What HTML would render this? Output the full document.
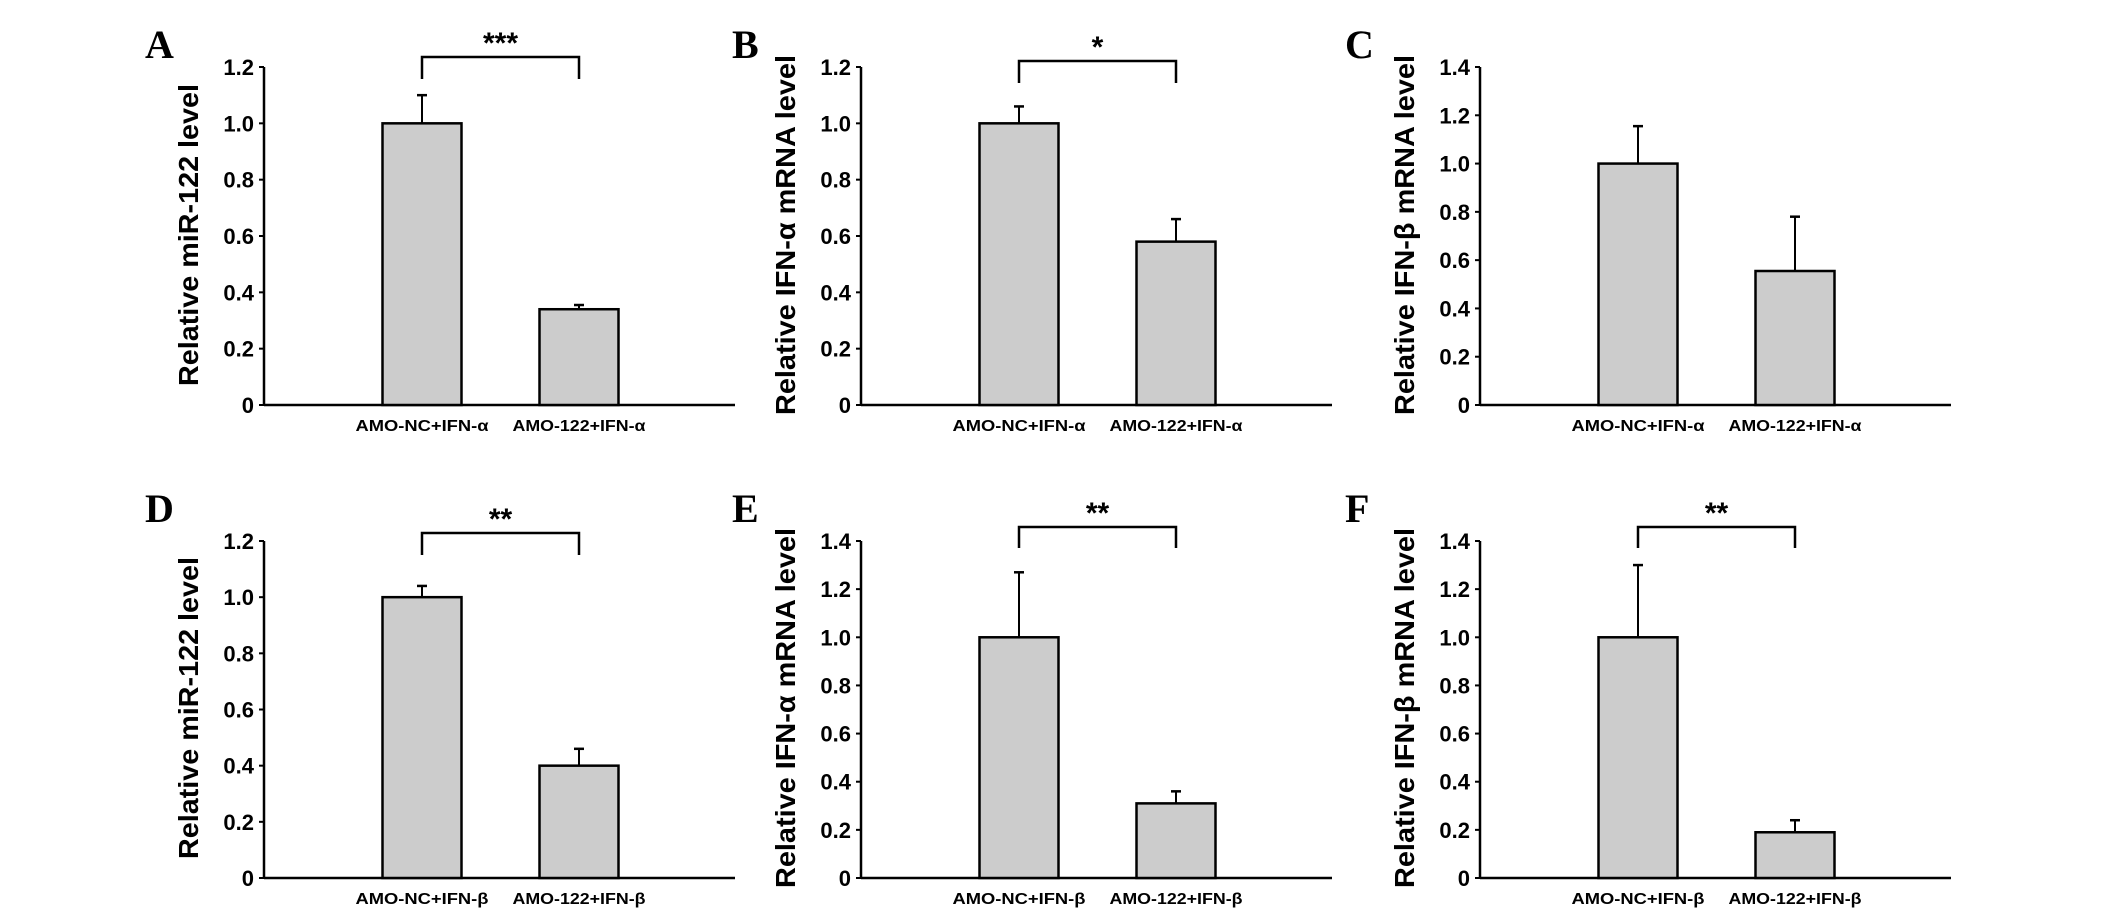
<!DOCTYPE html>
<html><head><meta charset="utf-8"><style>
html,body{margin:0;padding:0;background:#fff;}
svg{display:block;}
text{font-family:"Liberation Sans",sans-serif;font-weight:bold;fill:#000;}
.letter{font-family:"Liberation Serif",serif;font-size:40px;}
</style></head><body>
<svg id="fig" width="2126" height="921" viewBox="0 0 2126 921" xmlns="http://www.w3.org/2000/svg"></svg>
<script>
const panelLetters = ["A","B","C","D","E","F"];
const yTitles = ["Relative miR-122 level","Relative IFN-α mRNA level","Relative IFN-β mRNA level","Relative miR-122 level","Relative IFN-α mRNA level","Relative IFN-β mRNA level"];
const categoriesTop = ["AMO-NC+IFN-α","AMO-122+IFN-α"];
const categoriesBottom = ["AMO-NC+IFN-β","AMO-122+IFN-β"];
const meansA = [1.0, 0.34];  const errA = [0.1, 0.015];
const meansB = [1.0, 0.58];  const errB = [0.06, 0.08];
const meansC = [1.0, 0.555]; const errC = [0.155, 0.225];
const meansD = [1.0, 0.40];  const errD = [0.04, 0.06];
const meansE = [1.0, 0.31];  const errE = [0.27, 0.05];
const meansF = [1.0, 0.19];  const errF = [0.30, 0.05];
const yMaxes = [1.2, 1.2, 1.4, 1.2, 1.4, 1.4];
const yTicks12 = ["0","0.2","0.4","0.6","0.8","1.0","1.2"];
const yTicks14 = ["0","0.2","0.4","0.6","0.8","1.0","1.2","1.4"];
const significance = ["***","*","","**","**","**"];

const svg = document.getElementById('fig');
const NS = "http://www.w3.org/2000/svg";
function mk(tag, attrs, parent){const e=document.createElementNS(NS,tag);for(const k in attrs)e.setAttribute(k,attrs[k]);(parent||svg).appendChild(e);return e;}

const means=[meansA,meansB,meansC,meansD,meansE,meansF];
const errs=[errA,errB,errC,errD,errE,errF];
const axisX=[264,861,1480,264,861,1480];
const letterX=[145,732,1345,145,732,1345];
const rowBase=[405,878];
const rowTop=[67,541];
const bracketY=[[57,79],[61,83],null,[533,555],[527,548],[527,548]];

for(let p=0;p<6;p++){
  const row=p<3?0:1;
  const ax=axisX[p], base=rowBase[row], top=rowTop[row], ymax=yMaxes[p];
  const ticks = ymax>1.3? yTicks14 : yTicks12;
  const yS = v => base - (v/ymax)*(base-top);
  const xS = i => ax + 158 + i*157;
  const g=mk('g',{});
  
  
  const L=mk('text',{x:letterX[p],y:row?522:58,class:'letter'},g); L.textContent=panelLetters[p];
  
  
  const ya=mk('line',{x1:ax,y1:top,x2:ax,y2:base,stroke:'#000','stroke-width':2.5},g);
  
  
  const xa=mk('line',{x1:ax,y1:base,x2:ax+471,y2:base,stroke:'#000','stroke-width':2.5},g);
  
  
  ticks.forEach(t=>{
    const y=yS(parseFloat(t));
    mk('line',{x1:ax-5,y1:y,x2:ax,y2:y,stroke:'#000','stroke-width':2},g);
    const tt=mk('text',{x:ax-10,y:y+8,'text-anchor':'end','font-size':22},g); tt.textContent=t;
    
    
  });
  const titleLen = yTitles[p].indexOf('miR')>=0 ? 302 : 360;
  const cy = row ? 235+473 : 235;
  const yt=mk('text',{x:0,y:0,transform:`translate(${ax-66},${cy}) rotate(-90)`,'text-anchor':'middle','font-size':28,textLength:titleLen,lengthAdjust:'spacingAndGlyphs'},g);
  yt.textContent=yTitles[p];
  
  
  const cats = row?categoriesBottom:categoriesTop;
  means[p].forEach((v,i)=>{
    const cx=xS(i), y=yS(v), ye=yS(v+errs[p][i]);
    const eb=mk('line',{x1:cx,y1:ye,x2:cx,y2:y,stroke:'#000','stroke-width':2},g);
    
    
    mk('line',{x1:cx-5,y1:ye,x2:cx+5,y2:ye,stroke:'#000','stroke-width':2.5},g);
    const b=mk('rect',{x:cx-39.5,y:y,width:79,height:base-y,fill:'#cccccc',stroke:'#000','stroke-width':2.5},g);
    
    
    const xl=mk('text',{x:cx,y:base+26,'text-anchor':'middle','font-size':16,textLength:133,lengthAdjust:'spacingAndGlyphs'},g);
    xl.textContent=cats[i];
    
    
  });
  if(bracketY[p]){
    const [by,ly]=bracketY[p], x1=xS(0), x2=xS(1);
    const br=mk('path',{d:`M${x1},${ly}V${by}H${x2}V${ly}`,fill:'none',stroke:'#000','stroke-width':2.5},g);
    
    
    const st=mk('text',{x:(x1+x2)/2,y:by-4,'text-anchor':'middle','font-size':30},g);
    st.textContent=significance[p];
    
    
  }
}
</script>
</body></html>
